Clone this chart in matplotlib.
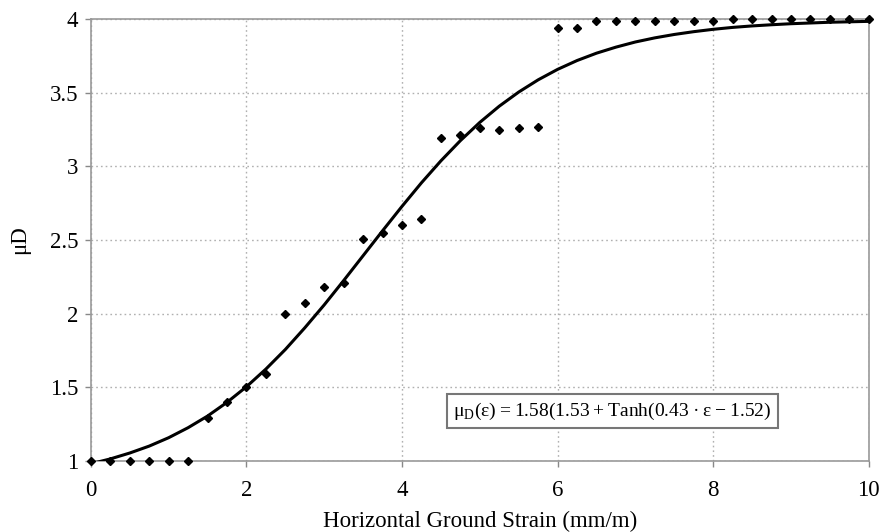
import numpy as np
import matplotlib.pyplot as plt

plt.rcParams['font.family'] = ['Liberation Serif', 'DejaVu Serif']
plt.rcParams['mathtext.fontset'] = 'custom'
plt.rcParams['mathtext.rm'] = 'Liberation Serif'

# Измеренные точки
strain = [0, 0.25, 0.5, 0.75, 1.0, 1.25, 1.5, 1.75, 2.0, 2.25, 2.5, 2.75, 3.0, 3.25,
          3.5, 3.75, 4.0, 4.25, 4.5, 4.75, 5.0, 5.25, 5.5, 5.75, 6.0, 6.25, 6.5, 6.75,
          7.0, 7.25, 7.5, 7.75, 8.0, 8.25, 8.5, 8.75, 9.0, 9.25, 9.5, 9.75, 10.0]
mu_d = [1.0, 1.0, 1.0, 1.0, 1.0, 1.0, 1.29, 1.40, 1.50, 1.59, 2.0, 2.07, 2.18, 2.21,
        2.51, 2.55, 2.60, 2.64, 3.19, 3.21, 3.26, 3.25, 3.26, 3.27, 3.94, 3.94, 3.99, 3.99,
        3.99, 3.99, 3.99, 3.99, 3.99, 4.0, 4.0, 4.0, 4.0, 4.0, 4.0, 4.0, 4.0]

# Кривая аппроксимации
fit_x = strain
fit_y = [0.981, 1.014, 1.054, 1.101, 1.158, 1.226, 1.305, 1.398, 1.504, 1.624, 1.757,
         1.904, 2.060, 2.225, 2.394, 2.563, 2.729, 2.889, 3.038, 3.175, 3.299, 3.409,
         3.505, 3.588, 3.659, 3.719, 3.769, 3.810, 3.845, 3.873, 3.896, 3.915, 3.931,
         3.944, 3.954, 3.962, 3.969, 3.974, 3.979, 3.982, 3.985]

x_ticks = [0, 2, 4, 6, 8, 10]
y_ticks = [1, 1.5, 2, 2.5, 3, 3.5, 4]
y_labels = ['1', '1.5', '2', '2.5', '3', '3.5', '4']

fig = plt.figure(figsize=(8.82, 5.32), dpi=100)
ax = fig.add_axes([0.103, 0.1335, 0.882, 0.8305])

ax.plot(fit_x, fit_y, color='black', lw=2.2, zorder=3)
ax.plot(strain, mu_d, linestyle='none', marker='D', markersize=4.5,
        color='black', zorder=4, clip_on=False)

ax.set_xlim(0, 10)
ax.set_ylim(1, 4)
ax.set_xticks(x_ticks)
ax.set_yticks(y_ticks)
ax.set_yticklabels(y_labels)
ax.tick_params(labelsize=16.5, length=4, color='#888888', width=1, pad=5)
ax.tick_params(axis='x', pad=10)

ax.grid(True, linestyle=(0, (1.2, 2.2)), color='#b0b0b0', lw=1)
for s in ax.spines.values():
    s.set_color('#999999')
    s.set_linewidth(1.2)

ax.set_xlabel('Horizontal Ground Strain (mm/m)', fontsize=16.5, labelpad=7)
ax.set_ylabel('μD', fontsize=16.5, labelpad=14)

ax.text(0.466, 0.113, 'μ$_\\mathrm{D}$(ε)\u2009=\u20091.58(1.53\u2009+\u2009Tanh(0.43\u2009·\u2009ε\u2009−\u20091.52)',
        transform=ax.transAxes, fontsize=14, ha='left', va='center',
        bbox=dict(boxstyle='square,pad=0.32', fc='white', ec='#777777', lw=1.5),
        zorder=5)

fig.savefig('out.png', dpi=100)
